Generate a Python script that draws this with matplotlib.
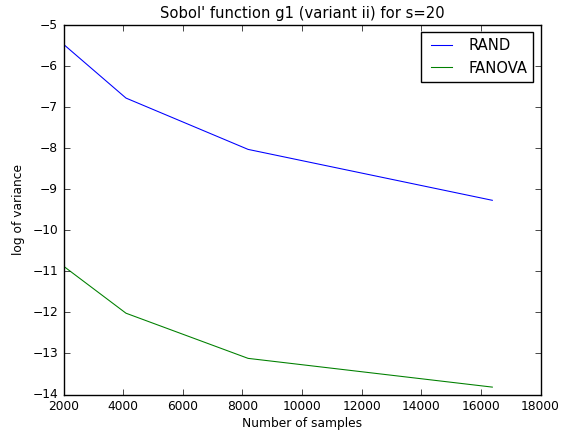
import matplotlib
matplotlib.use("Agg")
import matplotlib.pyplot as plt

# samples and log-variance estimates
samples = [2048, 4096, 8192, 16384]
rand_var = [-5.50, -6.78, -8.03, -9.27]
fanova_var = [-10.90, -12.02, -13.12, -13.82]

plt.style.use("classic")
plt.rcParams["font.size"] = 8.8
plt.rcParams["lines.linewidth"] = 0.77

fig = plt.figure(figsize=(5.61, 4.30), dpi=100)
ax = fig.add_axes([63.5 / 561, 35.5 / 430, 477 / 561, 369.5 / 430])

ax.plot(samples, rand_var, "b", label="RAND")
ax.plot(samples, fanova_var, "g", label="FANOVA")

ax.set_xlim(2000, 18000)
ax.set_ylim(-14, -5)
ax.set_title("Sobol' function g1 (variant ii) for s=20", fontsize=10.6)
ax.set_xlabel("Number of samples", labelpad=3)
ax.set_ylabel("log of variance")
ax.legend(loc="upper right", fontsize=10.6, borderpad=0.4)

fig.savefig("out.png", dpi=100)
